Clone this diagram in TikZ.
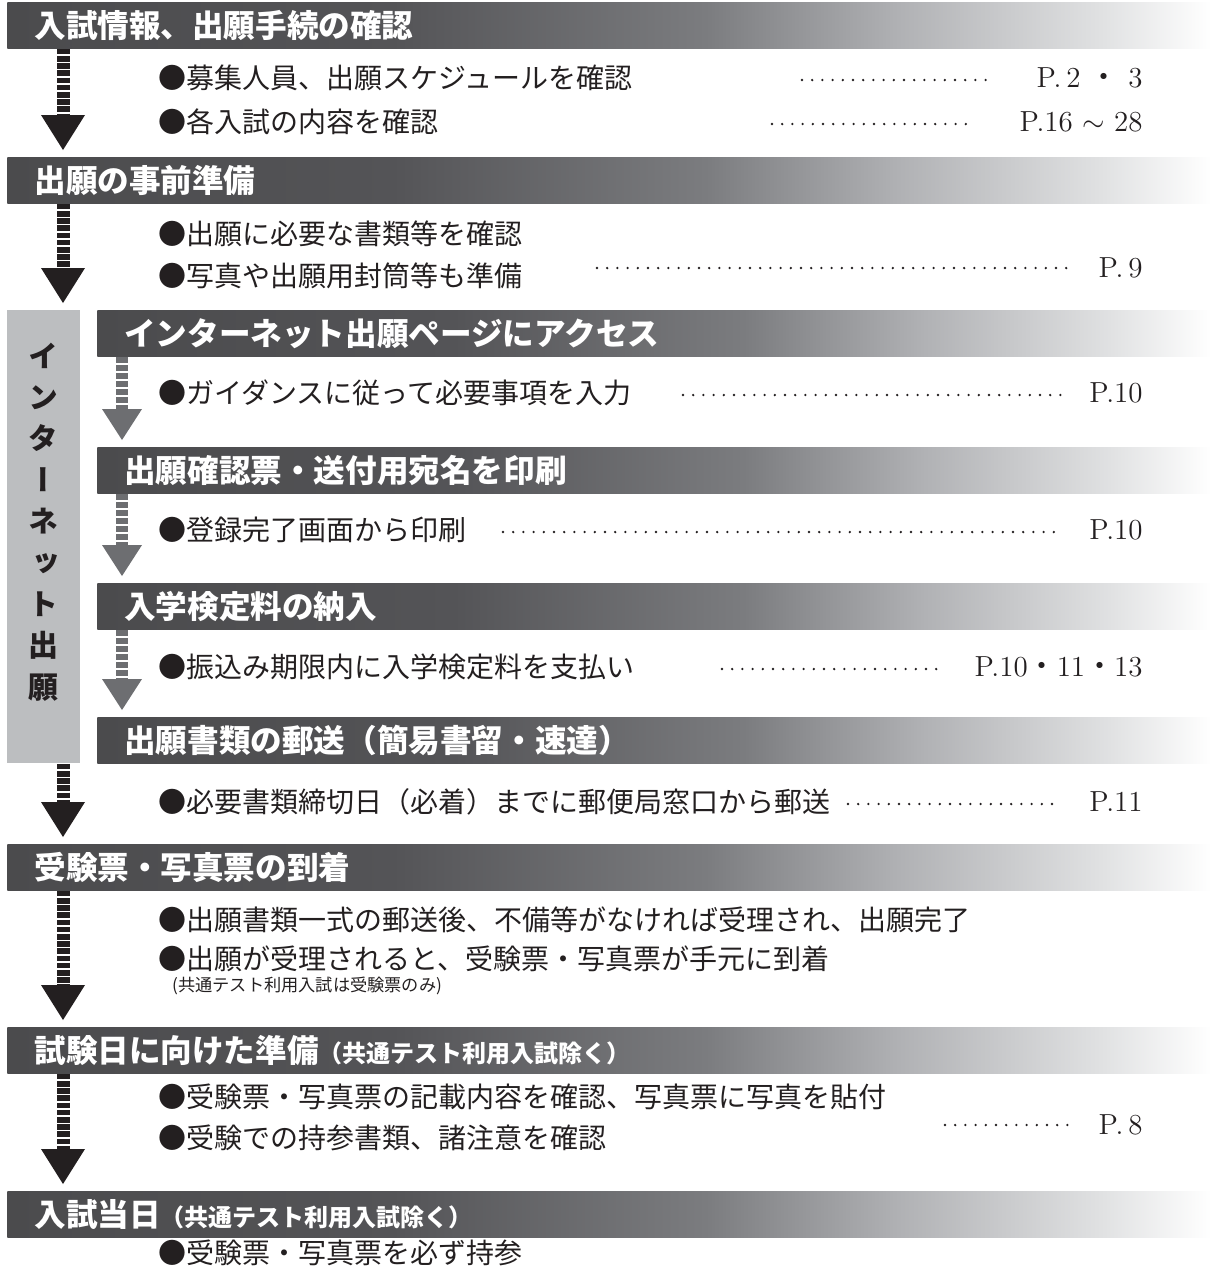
\documentclass[tikz,border=0pt]{standalone}
\usepackage{fontspec}
\usetikzlibrary{calc}
\newfontfamily\jp{Noto Sans CJK JP}
\newfontfamily\jpv{Noto Sans CJK JP}[RawFeature=+vert]

\definecolor{hdark}{HTML}{4B4B4D}
\definecolor{hs1}{HTML}{545457}
\definecolor{hs2}{HTML}{7B7C7F}
\definecolor{hs3}{HTML}{B0B1B4}
\definecolor{hs4}{HTML}{E0E1E2}
\definecolor{ink}{HTML}{231F20}
\definecolor{arrgray}{HTML}{6D6E71}
\definecolor{sidegray}{HTML}{BCBEC0}

\pgfdeclarehorizontalshading{barshade}{100bp}{color(0bp)=(hdark); color(25bp)=(hdark); color(41bp)=(hs1); color(54bp)=(hs2); color(62bp)=(hs3); color(70.4bp)=(hs4); color(75bp)=(white); color(100bp)=(white)}

\begin{document}
\begin{tikzpicture}[x=0.5pt,y=-0.5pt]
	\tikzset{hbar/.style={anchor=north west, shade, shading=barshade, text=white, font=\jp\bfseries\fontsize{15.8}{18}\selectfont, minimum height=23pt, inner ysep=0pt, inner xsep=13.5pt, align=left}}
	\tikzset{mainbar/.style={hbar, text width=575pt}}
	\tikzset{subbar/.style={hbar, text width=530pt}}
	\tikzset{body/.style={anchor=west, inner sep=0pt, text=ink, font=\jp\fontsize{14}{17}\selectfont}}
	\tikzset{pageref/.style={anchor=east, inner sep=0pt, text=ink, font=\fontsize{14.5}{17}\selectfont}}
	\tikzset{leader/.style={ink, line width=1.3pt, line cap=round, dash pattern=on 0pt off 5.1pt, shorten >=14pt}}
	\tikzset{bshaft/.style={ink, line width=6.5pt, dash pattern=on 2.8pt off 0.8pt}}
	\tikzset{gshaft/.style={arrgray, line width=6pt, dash pattern=on 3pt off 1pt}}
	\newcommand{\sm}{\fontsize{12}{14}\selectfont}

	\useasboundingbox (0,0) rectangle (1211,1276);

	% bars
	\node[mainbar] (h1) at (7,2) {入試情報、出願手続の確認};
	\node[mainbar] (h2) at (7,157) {出願の事前準備};
	\node[anchor=north west, fill=sidegray, minimum width=36.5pt, minimum height=226.5pt, inner sep=0pt] (side) at (7,310) {};
	\node[subbar] (h3) at (97,310) {インターネット出願ページにアクセス};
	\node[subbar] (h4) at (97,447) {出願確認票・送付用宛名を印刷};
	\node[subbar] (h5) at (97,583) {入学検定料の納入};
	\node[subbar] (h6) at (97,717) {出願書類の郵送（簡易書留・速達）};
	\node[mainbar] (h7) at (7,844) {受験票・写真票の到着};
	\node[mainbar] (h8) at (7,1027) {試験日に向けた準備{\sm（共通テスト利用入試除く）}};
	\node[mainbar] (h9) at (7,1191) {入試当日{\sm（共通テスト利用入試除く）}};

	\node[align=center, inner sep=0pt, text=ink, font=\jpv\bfseries\fontsize{15}{20.7}\selectfont] (sidelbl) at (43,522) {イ\\ン\\タ\\ー\\ネ\\ッ\\ト\\出\\願};

	% arrows
	\coordinate (ax) at (63,0);
	\coordinate (gx) at (122,0);
	\foreach \s/\t in {h1/h2,h2/side,h6/h7,h7/h8,h8/h9}{
		\coordinate (a) at (\s.south -| ax);
		\coordinate (b) at (\t.north -| ax);
		\draw[bshaft] (a) -- ($(b)+(0,-40)$);
		\fill[ink] ($(b)+(-22,-42)$) -- ($(b)+(22,-42)$) -- ($(b)+(0,-7)$) -- cycle;
	}
	\foreach \s/\t in {h3/h4,h4/h5,h5/h6}{
		\coordinate (a) at (\s.south -| gx);
		\coordinate (b) at (\t.north -| gx);
		\draw[gshaft] (a) -- ($(b)+(0,-36)$);
		\fill[arrgray] ($(b)+(-20,-38)$) -- ($(b)+(20,-38)$) -- ($(b)+(0,-7)$) -- cycle;
	}

	% texts
	\node[body] (t1a) at (158,78) {●募集人員、出願スケジュールを確認};
	\node[body] (t1b) at (158,122) {●各入試の内容を確認};
	\node[pageref] (p1a) at (1143,78) {P.\,2 {\jp ・} 3};
	\node[pageref] (p1b) at (1143,122) {P.16 $\sim$ 28};
	\coordinate (l1a) at (802,80);
	\coordinate (l1b) at (772,124);
	\draw[leader, shorten >=22pt] (l1a) -- (l1a -| p1a.west);
	\draw[leader, shorten >=22pt] (l1b) -- (l1b -| p1b.west);

	\node[body] (t2a) at (158,234) {●出願に必要な書類等を確認};
	\node[body] (t2b) at (158,276) {●写真や出願用封筒等も準備};
	\node[pageref] (p2) at (1143,268) {P.\,9};
	\coordinate (l2) at (597,268);
	\draw[leader] (l2) -- (l2 -| p2.west);

	\node[body] (t3) at (158,393) {●ガイダンスに従って必要事項を入力};
	\node[pageref] (p3) at (1143,393) {P.10};
	\coordinate (l3) at (683,395);
	\draw[leader] (l3) -- (l3 -| p3.west);

	\node[body] (t4) at (158,530) {●登録完了画面から印刷};
	\node[pageref] (p4) at (1143,530) {P.10};
	\coordinate (l4) at (503,532);
	\draw[leader] (l4) -- (l4 -| p4.west);

	\node[body] (t5) at (158,667) {●振込み期限内に入学検定料を支払い};
	\node[pageref] (p5) at (1143,667) {P.10{\jp ・}11{\jp ・}13};
	\coordinate (l5) at (722,669);
	\draw[leader] (l5) -- (l5 -| p5.west);

	\node[body] (t6) at (158,802) {●必要書類締切日（必着）までに郵便局窓口から郵送};
	\node[pageref] (p6) at (1143,802) {P.11};
	\coordinate (l6) at (848,804);
	\draw[leader] (l6) -- (l6 -| p6.west);

	\node[body] (t7a) at (158,920) {●出願書類一式の郵送後、不備等がなければ受理され、出願完了};
	\node[body] (t7b) at (158,959) {●出願が受理されると、受験票・写真票が手元に到着};
	\node[body, font=\jp\fontsize{8.6}{10}\selectfont] (t7c) at (172,986) {(共通テスト利用入試は受験票のみ)};

	\node[body] (t8a) at (158,1097) {●受験票・写真票の記載内容を確認、写真票に写真を貼付};
	\node[body] (t8b) at (158,1138) {●受験での持参書類、諸注意を確認};
	\node[pageref] (p8) at (1143,1125) {P.\,8};
	\coordinate (l8) at (945,1125);
	\draw[leader] (l8) -- (l8 -| p8.west);

	\node[body] (t9) at (158,1253) {●受験票・写真票を必ず持参};
\end{tikzpicture}
\end{document}
